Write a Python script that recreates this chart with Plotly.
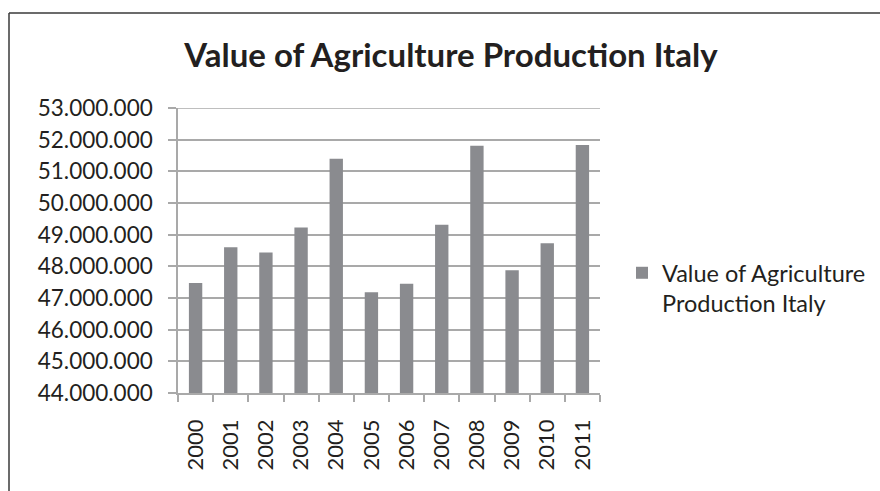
import plotly.graph_objects as go

# Annual value of agricultural production in Italy
years = ["2000", "2001", "2002", "2003", "2004", "2005",
         "2006", "2007", "2008", "2009", "2010", "2011"]
values = [47470000, 48600000, 48440000, 49230000, 51400000, 47180000,
          47450000, 49310000, 51810000, 47880000, 48730000, 51830000]
series_name = "Value of Agriculture<br>Production Italy"
chart_title = "<b>Value of Agriculture Production Italy</b>"
y_min, y_max, y_step = 44000000, 53000000, 1000000

W, H = 880, 491
L, R, T, B = 178, 600, 108, 393  # plot area in pixels

bar_color = "#8a8b8f"
grid_color = "#a9a9a9"
text_color = "#231f20"
font_family = "Lato, 'Open Sans', sans-serif"

fig = go.Figure()
fig.add_trace(go.Bar(
    x=years, y=values, name=series_name,
    marker=dict(color=bar_color, line=dict(width=0)),
    showlegend=True,
))

def px_to_paper_x(px):
    return (px - L) / (R - L)

def px_to_paper_y(py):
    return (B - py) / (B - T)

# gridline along the top of the value range
fig.add_shape(type="line", xref="paper", yref="y", x0=0, x1=1,
              y0=y_max, y1=y_max, line=dict(color=grid_color, width=1.5),
              layer="below")

# outer chart frame: left and top edges
frame = dict(type="line", xref="paper", yref="paper",
             line=dict(color="#3a3a3a", width=1.5))
fig.add_shape(**frame, x0=px_to_paper_x(9), x1=px_to_paper_x(9),
              y0=px_to_paper_y(13), y1=px_to_paper_y(491))
fig.add_shape(**frame, x0=px_to_paper_x(9), x1=px_to_paper_x(880),
              y0=px_to_paper_y(13), y1=px_to_paper_y(13))

fig.update_layout(
    width=W, height=H,
    margin=dict(l=L, r=W - R, t=T, b=H - B, pad=0, autoexpand=False),
    paper_bgcolor="white", plot_bgcolor="white",
    separators=",.",
    font=dict(family=font_family, color=text_color, size=22),
    bargap=0.62,
    title=dict(text=chart_title, x=451 / W, xanchor="center",
               y=1 - 55 / H, yanchor="middle",
               font=dict(size=33, family=font_family, color=text_color)),
    legend=dict(xref="container", yref="container",
                x=622 / W, y=1 - 251 / H,
                xanchor="left", yanchor="top", valign="top",
                font=dict(size=23.5, family=font_family, color=text_color),
                itemwidth=30, tracegroupgap=0, bgcolor="rgba(0,0,0,0)"),
    xaxis=dict(
        type="category", tickson="boundaries",
        showline=True, linecolor=grid_color, linewidth=1.5,
        ticks="outside", ticklen=7, tickcolor=grid_color, tickwidth=1.5,
        tickangle=-90, ticklabelstandoff=16,
        showgrid=False, zeroline=False,
        tickfont=dict(size=22),
    ),
    yaxis=dict(
        range=[y_min, y_max], dtick=y_step, tick0=y_min,
        tickformat=",d",
        showline=True, linecolor=grid_color, linewidth=1.5,
        ticks="outside", ticklen=8, tickcolor=grid_color, tickwidth=1.5,
        ticklabelstandoff=11,
        showgrid=True, gridcolor=grid_color, gridwidth=1.5,
        zeroline=False,
        tickfont=dict(size=22.5),
    ),
)

fig.write_html("out.html")
